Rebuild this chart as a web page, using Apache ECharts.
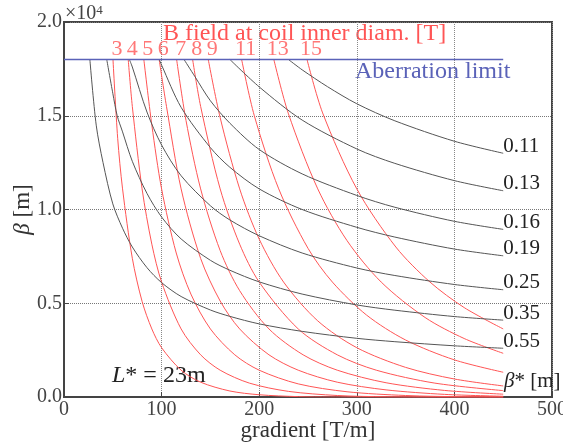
<!DOCTYPE html>
<html>
<head>
<meta charset="utf-8">
<script src="https://cdn.jsdelivr.net/npm/echarts@6/dist/echarts.min.js"></script>
<style>
  html, body { margin: 0; padding: 0; background: #fff; }
  #chart { width: 563px; height: 445px; }
</style>
</head>
<body>
<div id="chart"></div>
<script>
// beta values in units of 1e4 m, gradient in T/m
const xTicks = [0, 100, 200, 300, 400, 500]
const yTicks = [0, 0.5, 1.0, 1.5, 2.0]
const aberrationLimit = 1.8

// black curves: beta at the quads for each beta* [m]
const betaStarNames = ['0.11', '0.13', '0.16', '0.19', '0.25', '0.35', '0.55']
const bs011 = [[230, 1.8], [244, 1.745], [270, 1.655], [300, 1.564], [339, 1.473], [400, 1.364], [450, 1.30]]
const bs013 = [[170, 1.8], [200, 1.654], [244, 1.477], [300, 1.323], [339, 1.246], [400, 1.154], [450, 1.10]]
const bs016 = [[123, 1.8], [134, 1.71], [150, 1.58], [170, 1.46], [200, 1.32], [244, 1.19], [300, 1.075], [339, 1.012], [400, 0.937], [450, 0.894]]
const bs019 = [[97.7, 1.8], [100, 1.77], [120, 1.545], [150, 1.33], [170, 1.225], [200, 1.11], [244, 1.0], [300, 0.905], [339, 0.853], [400, 0.789], [450, 0.753]]
const bs025 = [[67, 1.8], [70, 1.76], [85, 1.52], [100, 1.344], [120, 1.18], [150, 1.02], [170, 0.944], [200, 0.86], [244, 0.768], [300, 0.688], [339, 0.648], [400, 0.60], [450, 0.572]]
const bs035 = [[43.8, 1.8], [50, 1.62], [54.5, 1.5], [60, 1.414], [70, 1.257], [85, 1.086], [100, 0.96], [120, 0.843], [150, 0.729], [170, 0.676], [200, 0.614], [244, 0.549], [300, 0.491], [339, 0.463], [400, 0.429], [450, 0.41]]
const bs055 = [[26.5, 1.8], [33, 1.45], [40, 1.25], [50, 1.03], [60, 0.9], [70, 0.8], [85, 0.69], [100, 0.61], [120, 0.536], [150, 0.464], [170, 0.43], [200, 0.39], [244, 0.35], [300, 0.313], [339, 0.295], [400, 0.273], [450, 0.26]]
const betaStarData = [bs011, bs013, bs016, bs019, bs025, bs035, bs055]

// red curves: B field at coil inner diameter [T]
const fieldNames = ['3', '4', '5', '6', '7', '8', '9', '11', '13', '15']
const b3 = [[50.2, 1.8], [55, 1.38], [60, 1.11], [70, 0.74], [80, 0.51], [90, 0.363], [100, 0.263], [120, 0.143], [140, 0.079], [170, 0.032], [200, 0.012], [240, 0.002], [273, 0], [450, 0]]
const b4 = [[65.8, 1.8], [70, 1.55], [80, 1.11], [90, 0.815], [100, 0.613], [120, 0.363], [140, 0.225], [160, 0.143], [190, 0.074], [230, 0.03], [280, 0.008], [330, 0.001], [364, 0], [450, 0]]
const b5 = [[81.8, 1.8], [90, 1.45], [100, 1.11], [115, 0.768], [130, 0.549], [150, 0.363], [175, 0.225], [200, 0.143], [240, 0.07], [290, 0.028], [350, 0.008], [410, 0.001], [450, 0]]
const b6 = [[97.5, 1.8], [105, 1.55], [120, 1.11], [140, 0.739], [160, 0.512], [180, 0.363], [210, 0.225], [240, 0.143], [280, 0.079], [330, 0.038], [390, 0.014], [450, 0.004]]
const b7 = [[115.4, 1.8], [125, 1.475], [140, 1.11], [160, 0.781], [180, 0.567], [210, 0.363], [245, 0.225], [280, 0.143], [330, 0.076], [390, 0.035], [450, 0.015]]
const b8 = [[131.8, 1.8], [140, 1.55], [160, 1.11], [180, 0.815], [200, 0.613], [240, 0.363], [280, 0.225], [320, 0.143], [380, 0.074], [450, 0.034]]
const b9 = [[147.8, 1.8], [160, 1.49], [180, 1.11], [200, 0.842], [225, 0.613], [260, 0.406], [300, 0.263], [350, 0.158], [400, 0.096], [450, 0.059]]
const b11 = [[182, 1.8], [195, 1.5], [220, 1.11], [250, 0.793], [275, 0.613], [310, 0.437], [350, 0.304], [400, 0.198], [450, 0.132]]
const b13 = [[215, 1.8], [230, 1.51], [260, 1.11], [290, 0.834], [325, 0.613], [370, 0.424], [410, 0.312], [450, 0.233]]
const b15 = [[249, 1.8], [265, 1.515], [300, 1.11], [340, 0.8], [375, 0.613], [410, 0.477], [450, 0.363]]
const fieldData = [b3, b4, b5, b6, b7, b8, b9, b11, b13, b15]

const limitLine = [[0, aberrationLimit], [450, aberrationLimit]]

const serif = 'Liberation Serif'
const red = '#ff5555'
const blue = '#5a62b8'

const chart = echarts.init(document.getElementById('chart'))

const series = []
betaStarData.forEach((pts, i) => {
    series.push({
        type: 'line', name: betaStarNames[i], data: pts,
        showSymbol: false, smooth: 0.3, silent: true,
        lineStyle: { color: '#555', width: 1 },
        endLabel: {
            show: true, formatter: betaStarNames[i], color: '#222',
            fontFamily: serif, fontSize: 21, distance: 0, offset: [0, -7]
        },
        z: 3
    })
})
fieldData.forEach((pts, i) => {
    series.push({
        type: 'line', name: 'B' + fieldNames[i], data: pts,
        showSymbol: false, smooth: 0.3, silent: true,
        lineStyle: { color: red, width: 1 },
        z: 2
    })
})
// number labels at the top of each red curve
series.push({
    type: 'scatter', symbolSize: 0, silent: true,
    data: fieldData.map((pts, i) => ({ value: pts[0], name: fieldNames[i] })),
    label: {
        show: true, position: 'top', distance: 1, offset: [4, 2],
        formatter: p => p.name, color: red, fontFamily: serif, fontSize: 22
    }
})
series.push({
    type: 'line', data: limitLine, showSymbol: false, silent: true,
    lineStyle: { color: blue, width: 1.5 }, z: 4
})

chart.setOption({
    animation: false,
    grid: {
        left: 64, right: 11, top: 22, bottom: 48, outerBoundsMode: 'none',
        show: true, borderColor: '#444', borderWidth: 2, backgroundColor: 'transparent'
    },
    xAxis: {
        type: 'value', min: xTicks[0], max: xTicks[xTicks.length - 1], interval: 100,
        name: 'gradient [T/m]', nameLocation: 'middle', nameGap: 22, nameMoveOverlap: false,
        nameTextStyle: { fontFamily: serif, fontSize: 23, color: '#333' },
        axisLine: { show: true, lineStyle: { color: '#444', width: 2 } },
        axisTick: { show: true, inside: true, length: 5, lineStyle: { color: '#444' } },
        axisLabel: { fontFamily: serif, fontSize: 20, color: '#444', margin: 3 },
        splitLine: { show: true, lineStyle: { type: 'dotted', color: '#888', width: 1 } }
    },
    yAxis: {
        type: 'value', min: yTicks[0], max: yTicks[yTicks.length - 1], interval: 0.5,
        name: '{i|β} [m]', nameLocation: 'middle', nameGap: 30, nameRotate: 90, nameMoveOverlap: false,
        nameTextStyle: { fontFamily: serif, fontSize: 23, color: '#333', rich: { i: { fontStyle: 'italic', fontFamily: serif, fontSize: 23, color: '#333' } } },
        axisLine: { show: true, lineStyle: { color: '#444', width: 2 } },
        axisTick: { show: true, inside: true, length: 5, lineStyle: { color: '#444' } },
        axisLabel: { fontFamily: serif, fontSize: 20, color: '#444', margin: 2, formatter: v => v.toFixed(1) },
        splitLine: { show: true, lineStyle: { type: 'dotted', color: '#777', width: 1 } }
    },
    graphic: [
        {
            type: 'text', left: 65, top: 4,
            style: { text: '×10{s|4}', fontFamily: serif, fontSize: 20, fill: '#444',
                rich: { s: { fontSize: 13, verticalAlign: 'top', fontFamily: serif, fill: '#444' } } }
        },
        {
            type: 'text', left: 163, top: 22,
            style: { text: 'B field at coil inner diam. [T]', fontFamily: serif, fontSize: 24, fill: red }
        },
        {
            type: 'text', left: 355, top: 60,
            style: { text: 'Aberration limit', fontFamily: serif, fontSize: 24, fill: blue }
        },
        {
            type: 'text', left: 112, top: 364,
            style: { text: '{i|L}* = 23m', fontFamily: serif, fontSize: 24, fill: '#222',
                rich: { i: { fontStyle: 'italic', fontFamily: serif, fontSize: 24, fill: '#222' } } }
        },
        {
            type: 'text', left: 504, top: 371,
            style: { text: '{i|β}* [m]', fontFamily: serif, fontSize: 21, fill: '#222',
                rich: { i: { fontStyle: 'italic', fontFamily: serif, fontSize: 21, fill: '#222' } } }
        }
    ],
    series
})
</script>
</body>
</html>
